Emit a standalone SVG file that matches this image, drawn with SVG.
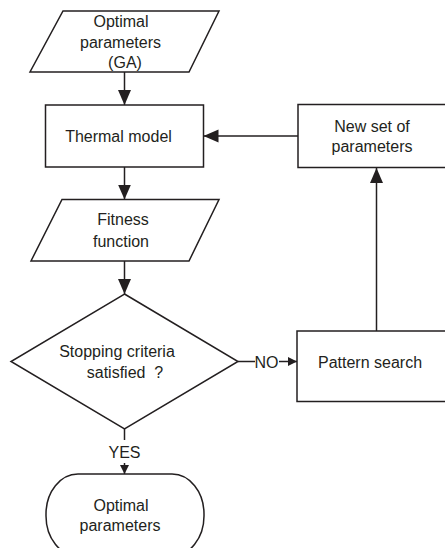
<svg xmlns="http://www.w3.org/2000/svg" width="445" height="548" viewBox="0 0 445 548">
  <style>
    .shape { fill: #ffffff; stroke: #231f20; stroke-width: 1.5; }
    .conn { fill: none; stroke: #231f20; stroke-width: 1.5; }
    text { font-family: "Liberation Sans", Arial, sans-serif; font-size: 16px; fill: #231f20; text-anchor: middle; }
  </style>
  <defs>
    <marker id="arrow" markerUnits="userSpaceOnUse" markerWidth="16" markerHeight="14" refX="15" refY="6.5" orient="auto">
      <path d="M0,0 L15,6.5 L0,13 z" fill="#231f20"/>
    </marker>
    <marker id="arrow-small" markerUnits="userSpaceOnUse" markerWidth="10" markerHeight="10" refX="9" refY="4.5" orient="auto">
      <path d="M0,0 L9,4.5 L0,9 z" fill="#231f20"/>
    </marker>
  </defs>

  <g id="connectors">
    <line class="conn" x1="124.5" y1="72" x2="124.5" y2="105" marker-end="url(#arrow)"/>
    <line class="conn" x1="124.5" y1="167" x2="124.5" y2="199.5" marker-end="url(#arrow)"/>
    <line class="conn" x1="124.5" y1="261" x2="124.5" y2="294" marker-end="url(#arrow)"/>
    <line class="conn" x1="124.5" y1="429" x2="124.5" y2="440"/>
    <line class="conn" x1="124.5" y1="463" x2="124.5" y2="474" marker-end="url(#arrow-small)"/>
    <line class="conn" x1="238" y1="361.5" x2="255" y2="361.5"/>
    <line class="conn" x1="279" y1="361.5" x2="297" y2="361.5" marker-end="url(#arrow-small)"/>
    <line class="conn" x1="376.5" y1="331" x2="376.5" y2="168" marker-end="url(#arrow)"/>
    <line class="conn" x1="298" y1="136" x2="203.5" y2="136" marker-end="url(#arrow)"/>
    <text x="266.5" y="368">NO</text>
    <text x="124.5" y="458">YES</text>
  </g>

  <g id="ga-params">
    <polygon class="shape" points="63,11 219,11 189,72 30,72"/>
    <text x="121" y="27">Optimal</text>
    <text x="120.5" y="48">parameters</text>
    <text x="125" y="68">(GA)</text>
  </g>

  <g id="thermal-model">
    <rect class="shape" x="45.5" y="105" width="158" height="62"/>
    <text x="118.5" y="142">Thermal model</text>
  </g>

  <g id="fitness">
    <polygon class="shape" points="62,199.5 219,199.5 189,261 31,261"/>
    <text x="123" y="225">Fitness</text>
    <text x="121" y="247">function</text>
  </g>

  <g id="stopping">
    <polygon class="shape" points="124.5,294 238,361.5 124.5,429 11,361.5"/>
    <text x="117" y="357">Stopping criteria</text>
    <text x="125" y="378">satisfied&#160; ?</text>
  </g>

  <g id="optimal">
    <rect class="shape" x="46" y="474" width="158" height="82" rx="32" ry="40"/>
    <text x="121" y="511">Optimal</text>
    <text x="120" y="531">parameters</text>
  </g>

  <g id="new-params">
    <rect class="shape" x="298" y="104.5" width="152" height="63"/>
    <text x="372" y="132">New set of</text>
    <text x="372" y="152">parameters</text>
  </g>

  <g id="pattern-search">
    <rect class="shape" x="297" y="331" width="153" height="70.5"/>
    <text x="370" y="368">Pattern search</text>
  </g>
</svg>
